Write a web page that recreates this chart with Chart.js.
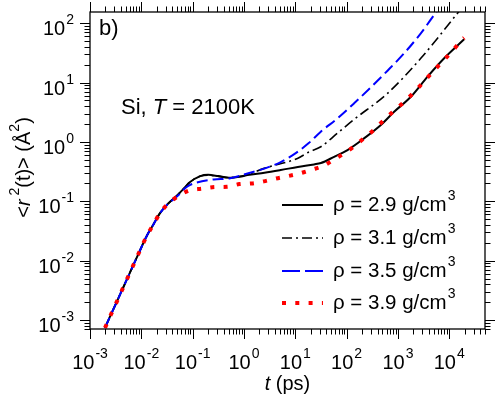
<!DOCTYPE html>
<html>
<head>
<meta charset="utf-8">
<script src="https://cdn.jsdelivr.net/npm/chart.js@4.4.0/dist/chart.umd.min.js"></script>
<style>
  html, body { margin: 0; padding: 0; background: #fff; }
  #wrap { position: relative; width: 498px; height: 398px; }
</style>
</head>
<body>
<div id="wrap"><canvas id="msdChart"></canvas></div>
<script>
// mean square displacement <r^2(t)> (A^2) vs time t (ps)
// ballistic part, shared by all four densities
const tEarly = [0.00196, 0.00245, 0.00317, 0.00396, 0.00497, 0.00621, 0.00789, 0.0102, 0.0129, 0.0172, 0.0229, 0.0331];
const msdEarly = [0.000736, 0.00114, 0.00185, 0.00284, 0.00438, 0.00671, 0.0106, 0.0173, 0.0266, 0.0407, 0.0625, 0.0908];

// rho = 2.9 g/cm3
const t29 = [0.0519, 0.070, 0.0877, 0.141, 0.200, 0.316, 0.513, 0.891, 1.17, 2.51, 5.21, 11.2, 23.2, 31.6, 57.0, 104, 219, 465, 843, 1790, 3780, 7960, 19500];
const msd29 = [0.130, 0.170, 0.209, 0.266, 0.279, 0.266, 0.250, 0.263, 0.277, 0.302, 0.336, 0.380, 0.419, 0.442, 0.562, 0.730, 1.15, 1.93, 3.23, 5.78, 12.6, 25.7, 53.7];

// rho = 3.1 g/cm3
const t31 = [0.0519, 0.070, 0.0877, 0.141, 0.200, 0.316, 0.513, 1.17, 2.47, 11.0, 18.3, 31.4, 66.5, 140, 627, 2790, 14500, 19500];
const msd31 = [0.130, 0.170, 0.209, 0.266, 0.275, 0.263, 0.251, 0.282, 0.359, 0.528, 0.676, 0.830, 1.41, 2.40, 6.61, 25.7, 148, 202];

// rho = 3.5 g/cm3
const t35 = [0.0519, 0.070, 0.0877, 0.115, 0.261, 0.513, 1.17, 2.65, 5.21, 10.2, 18.3, 31.4, 66.5, 140, 296, 627, 1320, 2790, 5480, 19500];
const msd35 = [0.125, 0.164, 0.187, 0.205, 0.234, 0.243, 0.295, 0.363, 0.458, 0.650, 0.957, 1.49, 2.50, 4.48, 8.34, 15.9, 31.2, 67.8, 151, 617];

// rho = 3.9 g/cm3
const t39 = [0.0519, 0.0877, 0.150, 0.270, 0.469, 0.817, 1.40, 2.43, 4.23, 7.24, 12.1, 20.7, 35.5, 55.6, 89.3, 143, 219, 339, 508, 760, 1175, 1762, 2636, 3828, 5649, 8318, 12300, 17800, 19500];
const msd39 = [0.122, 0.153, 0.163, 0.174, 0.176, 0.195, 0.200, 0.217, 0.243, 0.266, 0.295, 0.340, 0.397, 0.501, 0.643, 0.853, 1.16, 1.59, 2.25, 3.10, 4.31, 6.01, 8.67, 12.4, 17.8, 25.3, 36.5, 53.0, 57.0];

const seriesLabels = ["ρ = 2.9 g/cm", "ρ = 3.1 g/cm", "ρ = 3.5 g/cm", "ρ = 3.9 g/cm"];
const xDecades = [-3, -2, -1, 0, 1, 2, 3, 4];
const yDecades = [-3, -2, -1, 0, 1, 2];

const FONT = '"Liberation Sans", Arial, Helvetica, sans-serif';

function toPoints(ts, vs) {
  const all_t = tEarly.concat(ts);
  const all_v = msdEarly.concat(vs);
  return all_t.map((t, i) => ({ x: t, y: all_v[i] }));
}

// "10" with a raised exponent, anchored at x (center or right), y = baseline of "10"
function drawPower(ctx, exp, x, y, align) {
  ctx.font = "20px " + FONT;
  const wBase = ctx.measureText("10").width;
  ctx.font = "14px " + FONT;
  const wSup = ctx.measureText(exp).width;
  const total = wBase + 1 + wSup;
  const x0 = align === "center" ? x - total / 2 : x - total;
  ctx.textAlign = "left";
  ctx.textBaseline = "alphabetic";
  ctx.font = "20px " + FONT;
  ctx.fillText("10", x0, y);
  ctx.font = "14px " + FONT;
  ctx.fillText(exp, x0 + wBase + 1, y - 11);
}

const framePlugin = {
  id: "frame",
  afterDatasetsDraw(chart) {
    const ctx = chart.ctx;
    const a = chart.chartArea;
    const xs = chart.scales.x, ys = chart.scales.y;
    ctx.save();
    ctx.strokeStyle = "#000";
    ctx.fillStyle = "#000";
    ctx.lineWidth = 1.3;
    ctx.strokeRect(a.left, a.top, a.right - a.left, a.bottom - a.top);

    // ticks, all pointing outwards, on all four sides
    ctx.lineWidth = 1;
    ctx.beginPath();
    for (let n = xDecades[0]; n <= xDecades[xDecades.length - 1] + 1; n++) {
      for (let k = 1; k <= 9; k++) {
        const v = k * Math.pow(10, n);
        const px = xs.getPixelForValue(v);
        if (px < a.left - 0.5 || px > a.right + 0.5) continue;
        const len = k === 1 ? 10 : 5.5;
        const xx = Math.round(px) + 0.5;
        ctx.moveTo(xx, a.bottom); ctx.lineTo(xx, a.bottom + len);
        ctx.moveTo(xx, a.top); ctx.lineTo(xx, a.top - len);
      }
    }
    for (let n = yDecades[0] - 1; n <= yDecades[yDecades.length - 1]; n++) {
      for (let k = 1; k <= 9; k++) {
        const v = k * Math.pow(10, n);
        const py = ys.getPixelForValue(v);
        if (py < a.top - 0.5 || py > a.bottom + 0.5) continue;
        const len = k === 1 ? 10 : 5.5;
        const yy = Math.round(py) + 0.5;
        ctx.moveTo(a.left, yy); ctx.lineTo(a.left - len, yy);
        ctx.moveTo(a.right, yy); ctx.lineTo(a.right + len, yy);
      }
    }
    ctx.stroke();

    // tick labels
    xDecades.forEach(n => {
      drawPower(ctx, String(n), xs.getPixelForValue(Math.pow(10, n)), a.bottom + 40, "center");
    });
    yDecades.forEach(n => {
      drawPower(ctx, String(n), a.left - 16, ys.getPixelForValue(Math.pow(10, n)) + 12, "right");
    });

    // axis titles
    ctx.textBaseline = "alphabetic";
    ctx.font = "italic 20px " + FONT;
    const wT = ctx.measureText("t").width;
    ctx.font = "20px " + FONT;
    const wPs = ctx.measureText(" (ps)").width;
    let xt = (a.left + a.right) / 2 - (wT + wPs) / 2;
    ctx.textAlign = "left";
    ctx.font = "italic 20px " + FONT;
    ctx.fillText("t", xt, 390);
    ctx.font = "20px " + FONT;
    ctx.fillText(" (ps)", xt + wT, 390);

    // y title, rotated: <r^2(t)> (A^2)
    const parts = [
      { s: "<", f: "20px ", dy: 0 },
      { s: "r", f: "italic 20px ", dy: 0 },
      { s: " 2", f: "14px ", dy: -11 },
      { s: "(t)> (Å", f: "20px ", dy: 0 },
      { s: "2", f: "14px ", dy: -11 },
      { s: ")", f: "20px ", dy: 0 }
    ];
    let total = 0;
    parts.forEach(p => { ctx.font = p.f + FONT; p.w = ctx.measureText(p.s).width; total += p.w; });
    ctx.save();
    ctx.translate(30, (a.top + a.bottom) / 2 - 3);
    ctx.rotate(-Math.PI / 2);
    let cx = -total / 2;
    parts.forEach(p => { ctx.font = p.f + FONT; ctx.fillText(p.s, cx, p.dy); cx += p.w; });
    ctx.restore();

    // panel label and annotation
    ctx.font = "22px " + FONT;
    ctx.fillText("b)", a.left + 9, 35);
    let xa = 121;
    ctx.fillText("Si, ", xa, 114);
    xa += ctx.measureText("Si, ").width;
    ctx.font = "italic 22px " + FONT;
    ctx.fillText("T", xa, 114);
    xa += ctx.measureText("T").width;
    ctx.font = "22px " + FONT;
    ctx.fillText(" = 2100K", xa, 114);

    // legend
    const rowY = [205, 238, 271, 303];
    const legendDash = [[], [10, 4, 2, 4], [18, 5], [4, 9.3]];
    chart.data.datasets.forEach((ds, i) => {
      const y = rowY[i];
      ctx.save();
      ctx.strokeStyle = ds.borderColor;
      ctx.lineWidth = ds.borderWidth;
      ctx.setLineDash(legendDash[i]);
      ctx.beginPath();
      ctx.moveTo(282, y);
      ctx.lineTo(323, y);
      ctx.stroke();
      ctx.restore();
      ctx.font = "20.5px " + FONT;
      ctx.fillText(seriesLabels[i], 333, y + 6);
      const w = ctx.measureText(seriesLabels[i]).width;
      ctx.font = "14px " + FONT;
      ctx.fillText("3", 333 + w + 1, y - 5);
    });
    ctx.restore();
  }
};

new Chart(document.getElementById("msdChart"), {
  type: "line",
  data: {
    datasets: [
      { label: seriesLabels[0], data: toPoints(t29, msd29), borderColor: "#000000", borderWidth: 2, order: 2 },
      { label: seriesLabels[1], data: toPoints(t31, msd31), borderColor: "#000000", borderWidth: 1.6, borderDash: [10, 4, 2, 4], order: 3 },
      { label: seriesLabels[2], data: toPoints(t35, msd35), borderColor: "#0000ff", borderWidth: 2, borderDash: [11, 5], order: 1 },
      { label: seriesLabels[3], data: toPoints(t39, msd39), borderColor: "#ff0000", borderWidth: 4, borderDash: [4, 9.3], order: 0 }
    ]
  },
  options: {
    responsive: true,
    maintainAspectRatio: false,
    animation: false,
    layout: { padding: { left: 90, top: 12, right: 13, bottom: 69 } },
    elements: { point: { radius: 0 }, line: { cubicInterpolationMode: "monotone", fill: false } },
    plugins: { legend: { display: false }, tooltip: { enabled: false } },
    scales: {
      x: { type: "logarithmic", min: 1e-3, max: 4.97e4, display: false },
      y: { type: "logarithmic", min: 7.05e-4, max: 155, display: false }
    }
  },
  plugins: [framePlugin]
});
</script>
</body>
</html>
